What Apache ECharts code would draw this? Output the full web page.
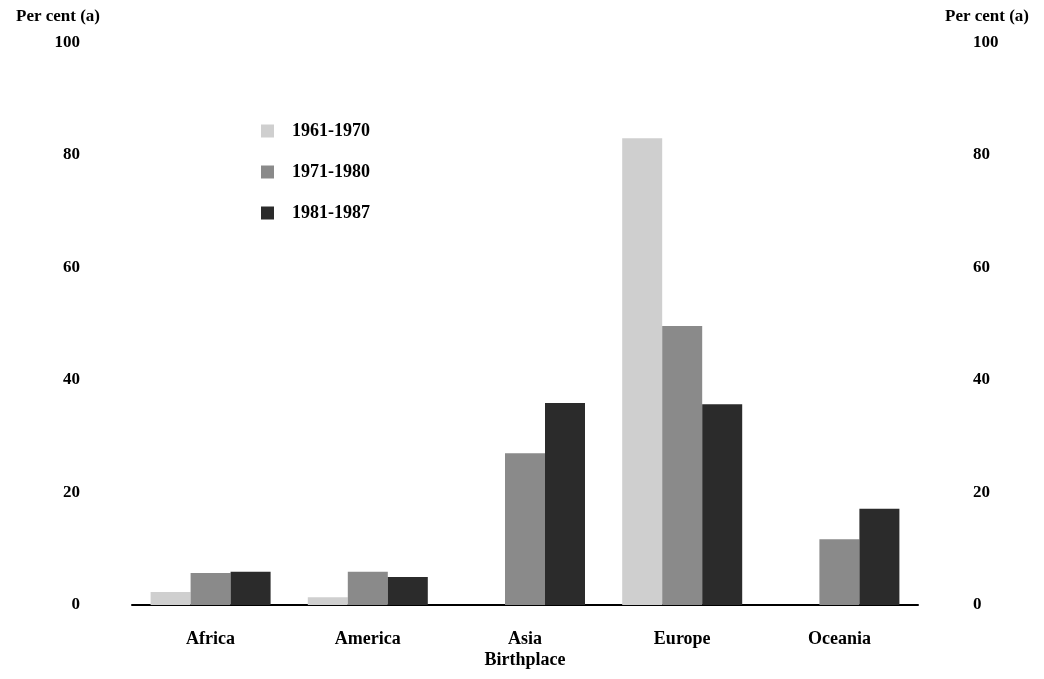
<!DOCTYPE html>
<html><head><meta charset="utf-8">
<script src="https://cdn.jsdelivr.net/npm/echarts@6/dist/echarts.min.js"></script>
<style>html,body{margin:0;padding:0;background:#fff}#c{width:1044px;height:679px}</style>
</head><body><div id="c"></div>
<script>
const categories = ['Africa', 'America', 'Asia', 'Europe', 'Oceania'];
const s1961 = [2.3, 1.4, 0, 83, 0];
const s1971 = [5.7, 5.9, 27, 49.6, 11.7];
const s1981 = [5.9, 5.0, 35.9, 35.7, 17.1];
const yTicks = [0, 20, 40, 60, 80, 100];

const font = '"Liberation Serif", "DejaVu Serif", serif';
const chart = echarts.init(document.getElementById('c'));
const yAxisBase = {
  type: 'value', min: 0, max: 100, interval: 20,
  axisLine: {show: false}, axisTick: {show: false}, splitLine: {show: false},
  name: 'Per cent (a)', nameLocation: 'end', nameGap: 17,
  axisLabel: {fontFamily: font, fontWeight: 'bold', fontSize: 17, color: '#000', margin: 52}
};
chart.setOption({
  animation: false,
  backgroundColor: '#fff',
  grid: {left: 132, right: 126, top: 42.5, bottom: 74},
  legend: {
    orient: 'vertical', left: 256, top: 117, itemGap: 23,
    itemWidth: 13, itemHeight: 13, icon: 'rect',
    textStyle: {fontFamily: font, fontWeight: 'bold', fontSize: 18, color: '#000', padding: [0, 0, 0, 13]},
    data: ['1961-1970', '1971-1980', '1981-1987']
  },
  xAxis: {
    type: 'category', data: categories,
    axisLine: {lineStyle: {color: '#000', width: 2}}, axisTick: {show: false},
    axisLabel: {fontFamily: font, fontWeight: 'bold', fontSize: 18, color: '#000', margin: 25},
    name: 'Birthplace', nameLocation: 'middle', nameGap: 46, nameMoveOverlap: false,
    nameTextStyle: {fontFamily: font, fontWeight: 'bold', fontSize: 18, color: '#000'}
  },
  yAxis: [
    Object.assign({}, yAxisBase, {position: 'left',
      nameTextStyle: {fontFamily: font, fontWeight: 'bold', fontSize: 17, color: '#000', align: 'right', padding: [0, 32, 0, 0]},
      axisLabel: Object.assign({}, yAxisBase.axisLabel, {formatter: v => yTicks.includes(v) ? String(v) : ''})}),
    Object.assign({}, yAxisBase, {position: 'right',
      nameTextStyle: {fontFamily: font, fontWeight: 'bold', fontSize: 17, color: '#000', align: 'left', padding: [0, 0, 0, 27]},
      axisLabel: Object.assign({}, yAxisBase.axisLabel, {margin: 55, formatter: v => yTicks.includes(v) ? String(v) : ''})})
  ],
  series: [
    {name: '1961-1970', type: 'bar', data: s1961, barWidth: 40, barGap: '0%', itemStyle: {color: '#cfcfcf'}},
    {name: '1971-1980', type: 'bar', data: s1971, barWidth: 40, barGap: '0%', itemStyle: {color: '#8a8a8a'}},
    {name: '1981-1987', type: 'bar', data: s1981, barWidth: 40, barGap: '0%', itemStyle: {color: '#2b2b2b'}}
  ]
});
</script></body></html>
